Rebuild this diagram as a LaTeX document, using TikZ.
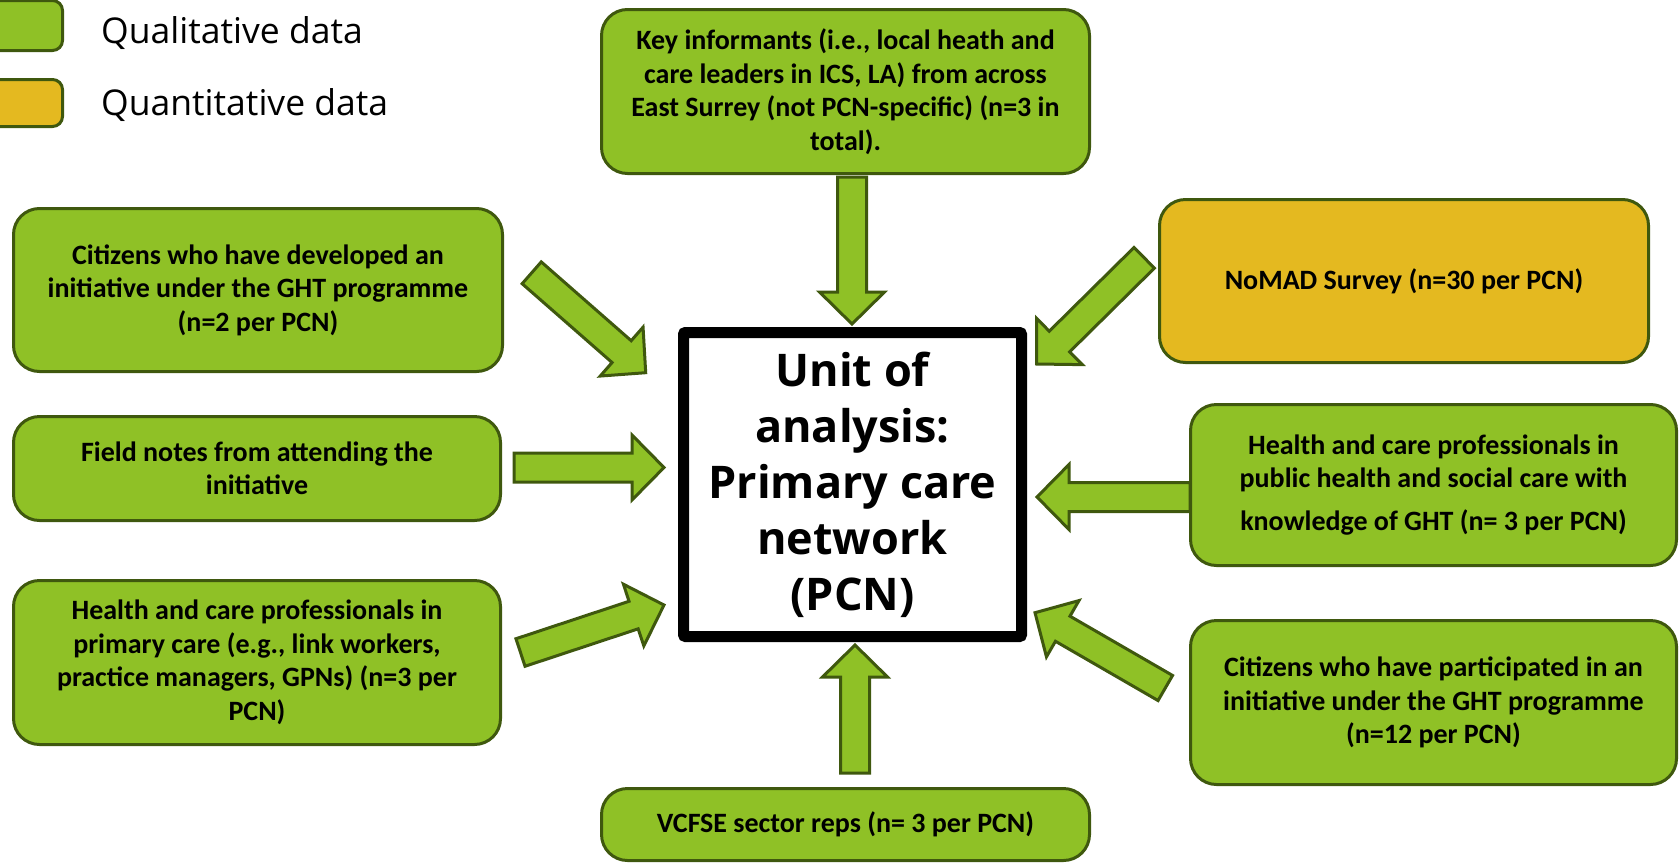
\documentclass[tikz,border=0pt]{standalone}
\usepackage{fontspec}
\setmainfont{Carlito}
\newfontfamily\opensans{Open Sans}
\usetikzlibrary{calc}
\definecolor{qgreen}{RGB}{143,193,38}
\definecolor{qorange}{RGB}{228,185,32}
\definecolor{qborder}{RGB}{63,88,14}
\tikzset{
  databox/.style={draw=qborder, line width=3pt, rounded corners=26pt, fill=qgreen, align=center, inner sep=0pt, font=\bfseries\fontsize{28}{33.5}\selectfont},
  quantbox/.style={databox, fill=qorange},
  blockarr/.style={draw=qborder, fill=qgreen, line width=3pt, line join=miter},
  centerbox/.style={draw=black, line width=11pt, fill=white, rounded corners=2pt, align=center, inner sep=0pt, font=\opensans\bfseries\fontsize{45}{56}\selectfont},
  legtext/.style={anchor=base west, inner sep=0pt, font=\opensans\fontsize{35.5}{40}\selectfont},
  legbox/.style={draw=qborder, line width=3pt, rounded corners=10pt, inner sep=0pt},
}
\newcommand\blockarrow[2]{%
  \coordinate (neck) at ($(#2)!32pt!(#1)$);
  \path[blockarr] ($(#1)!14.5pt!90:(#2)$) -- ($(neck)!14.5pt!90:(#2)$) -- ($(neck)!32.5pt!90:(#2)$) -- (#2)
     -- ($(neck)!32.5pt!-90:(#2)$) -- ($(neck)!14.5pt!-90:(#2)$) -- ($(#1)!14.5pt!-90:(#2)$) -- cycle;}
\begin{document}
\begin{tikzpicture}[x=1pt,y=-1pt]
\useasboundingbox (0,0) rectangle (1680,865);
\clip (0,0) rectangle (1680,865);

% legend
\node[legbox, fill=qgreen, minimum width=101pt, minimum height=50pt] (legq) at (12,25.5) {};
\node[legbox, fill=qorange, minimum width=101pt, minimum height=47pt] (legn) at (12,103) {};
\node[legtext] (legqt) at (101,43) {Qualitative data};
\node[legtext] (legnt) at (101,115) {Quantitative data};

% arrow end points
\coordinate (a1t) at (531.7,272.8);  \coordinate (a1h) at (645.7,372.7);
\coordinate (a2t) at (852,177);      \coordinate (a2h) at (852,324);
\coordinate (a3t) at (1144.2,257.8); \coordinate (a3h) at (1036.7,364);
\coordinate (a4t) at (514,467.5);    \coordinate (a4h) at (664,467.5);
\coordinate (a5t) at (1190,497);     \coordinate (a5h) at (1037,497);
\coordinate (a6t) at (520.5,652.5);  \coordinate (a6h) at (664,605);
\coordinate (a7t) at (1165.3,688);   \coordinate (a7h) at (1035,612.7);
\coordinate (a8t) at (855,773);      \coordinate (a8h) at (855,645);

\blockarrow{a1t}{a1h}
\blockarrow{a2t}{a2h}
\blockarrow{a3t}{a3h}
\blockarrow{a4t}{a4h}
\blockarrow{a5t}{a5h}
\blockarrow{a6t}{a6h}
\blockarrow{a7t}{a7h}
\blockarrow{a8t}{a8h}

% boxes
\node[databox, minimum width=489pt, minimum height=163pt] (cdev) at (258,290)
  {Citizens who have developed an\\ initiative under the GHT programme\\ (n=2 per PCN)};
\node[databox, minimum width=488pt, minimum height=164pt] (key) at (845.5,91.5)
  {Key informants (i.e., local heath and\\ care leaders in ICS, LA) from across\\ East Surrey (not PCN-specific) (n=3 in\\ total).};
\node[quantbox, minimum width=489pt, minimum height=163pt] (nomad) at (1404,281)
  {NoMAD Survey (n=30 per PCN)};
\node[databox, minimum width=487pt, minimum height=104pt] (field) at (257,468.5)
  {Field notes from attending the\\ initiative};
\node[databox, minimum width=487pt, minimum height=164pt] (hprim) at (257,662.5)
  {Health and care professionals in\\ primary care (e.g., link workers,\\ practice managers, GPNs) (n=3 per\\ PCN)};
\node[databox, minimum width=488pt, minimum height=72pt] (vcfse) at (845.5,824.5)
  {VCFSE sector reps (n= 3 per PCN)};
\node[databox, minimum width=486pt, minimum height=161pt] (hpub) at (1433.5,485)
  {Health and care professionals in\\ public health and social care with\\[9pt] knowledge of GHT (n= 3 per PCN)};
\node[databox, minimum width=486pt, minimum height=164pt] (cpart) at (1433.5,702.5)
  {Citizens who have participated in an\\ initiative under the GHT programme\\ (n=12 per PCN)};

% centre
\node[centerbox, minimum width=338pt, minimum height=304pt] (unit) at (852.5,484.5)
  {Unit of\\ analysis:\\ Primary care\\ network\\ (PCN)};
\end{tikzpicture}
\end{document}
